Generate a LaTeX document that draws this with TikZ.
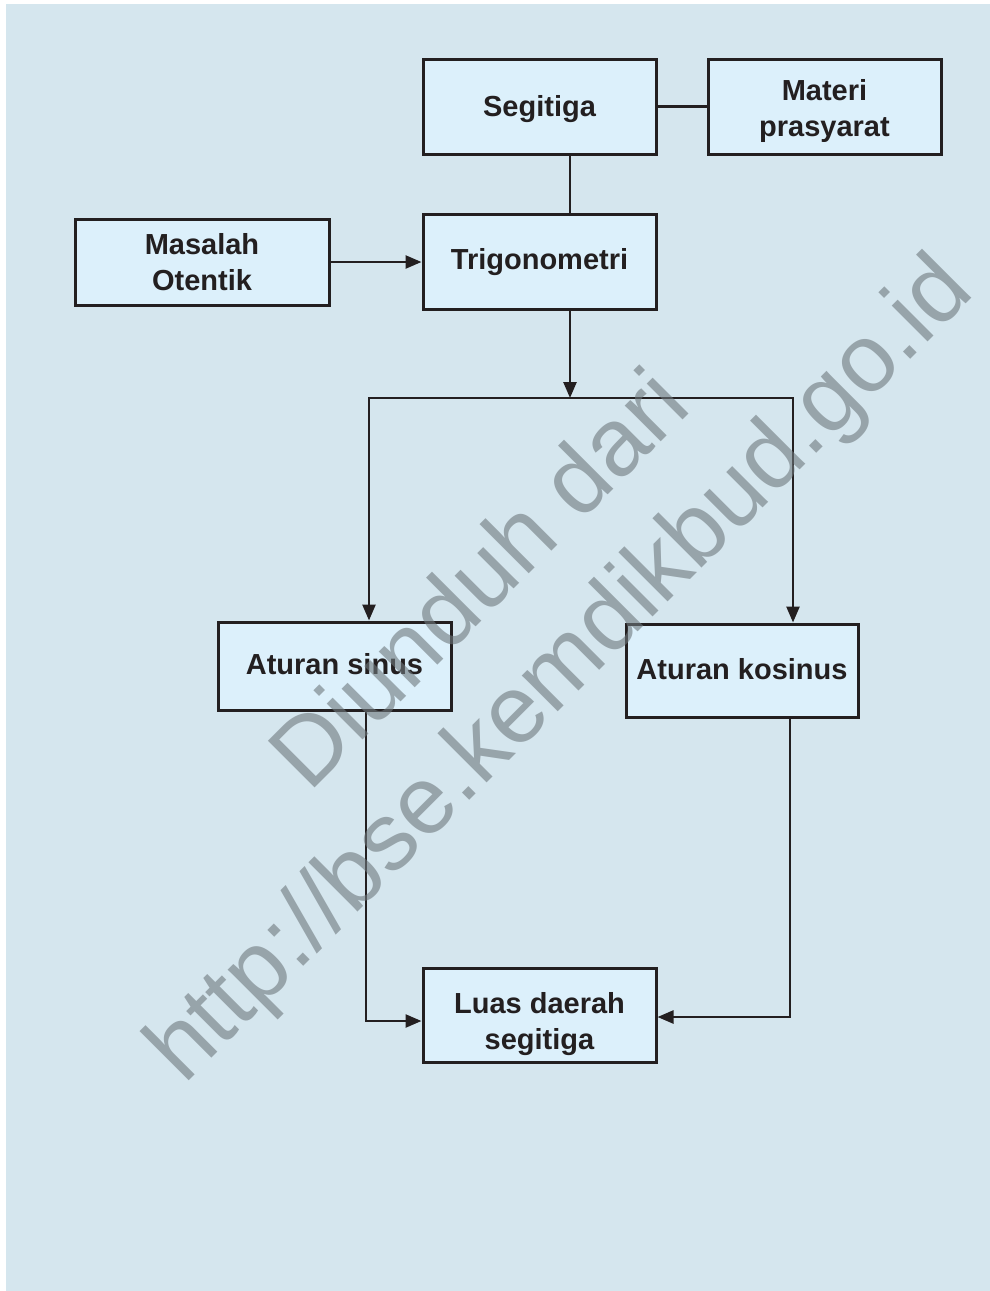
\documentclass[tikz,border=0pt]{standalone}
\usepackage{fontspec}
\setmainfont{Liberation Sans}
\usetikzlibrary{arrows.meta,calc}
\definecolor{bgc}{RGB}{213,230,238}
\definecolor{boxc}{RGB}{220,240,251}
\definecolor{ink}{RGB}{35,31,32}
\definecolor{wm}{RGB}{110,120,125}
\newcommand\upstrut[1]{\rule{0pt}{#1}}
\newcommand\dnstrut[1]{\rule[-#1]{0pt}{#1}}
\tikzset{
  box/.style={draw=ink, line width=3pt, fill=boxc, rectangle, inner sep=0pt,
    align=center, font=\fontsize{29}{36}\selectfont\bfseries, text=ink},
  link/.style={draw=ink, line width=2.5pt},
  arr/.style={link, -{Triangle[length=16pt,width=13pt]}},
  wmtext/.style={text=wm, text opacity=0.6, rotate=45, anchor=base west, inner sep=0pt,
    font=\fontsize{96}{110}\selectfont}
}
\begin{document}
\begin{tikzpicture}[x=1pt,y=-1pt]
\useasboundingbox (0,0) rectangle (990,1291);
\fill[white] (0,0) rectangle (990,1291);
\fill[bgc] (6,4) rectangle (990,1291);

\node[box, minimum width=233pt, minimum height=95pt] (seg) at (539.5,106.5) {\upstrut{27pt}Segitiga};
\node[box, minimum width=233pt, minimum height=95pt] (mat) at (824.5,106.5) {\upstrut{31pt}Materi\\prasyarat};
\node[box, minimum width=233pt, minimum height=95pt] (tri) at (539.5,262) {Trigonometri};
\node[box, minimum width=254pt, minimum height=86pt] (mas) at (202,262) {Masalah\\Otentik};
\node[box, minimum width=233pt, minimum height=88pt] (sin) at (334.5,666) {Aturan sinus\dnstrut{4pt}};
\node[box, minimum width=232pt, minimum height=93pt] (kos) at (742,670.5) {Aturan kosinus\dnstrut{4pt}};
\node[box, minimum width=233pt, minimum height=94pt] (luas) at (539.5,1015) {\upstrut{39pt}Luas daerah\\segitiga};

\coordinate (jx) at (570,0);
\coordinate (bar) at (570,398);
\coordinate (bl) at (369,398);
\coordinate (br) at (793,398);
\coordinate (sl) at (366,1021);
\coordinate (kr) at (790,1017);

\draw[link] (seg.east) -- (mat.west);
\draw[link] (seg.south -| jx) -- (tri.north -| jx);
\draw[arr] (mas.east) -- (tri.west);
\draw[arr] (tri.south -| jx) -- (bar);
\draw[link, line cap=rect] (bl) -- (br);
\draw[arr] (bl) -- (sin.north -| bl);
\draw[arr] (br) -- (kos.north -| br);
\draw[arr] (sin.south -| sl) -- (sl) -- (luas.west |- sl);
\draw[arr] (kos.south -| kr) -- (kr) -- (luas.east |- kr);

\node[wmtext] (wm1) at (309,794) {Diunduh dari};
\node[wmtext] (wm2) at (184,1086) {http://bse.kemdikbud.go.id};
\end{tikzpicture}
\end{document}
